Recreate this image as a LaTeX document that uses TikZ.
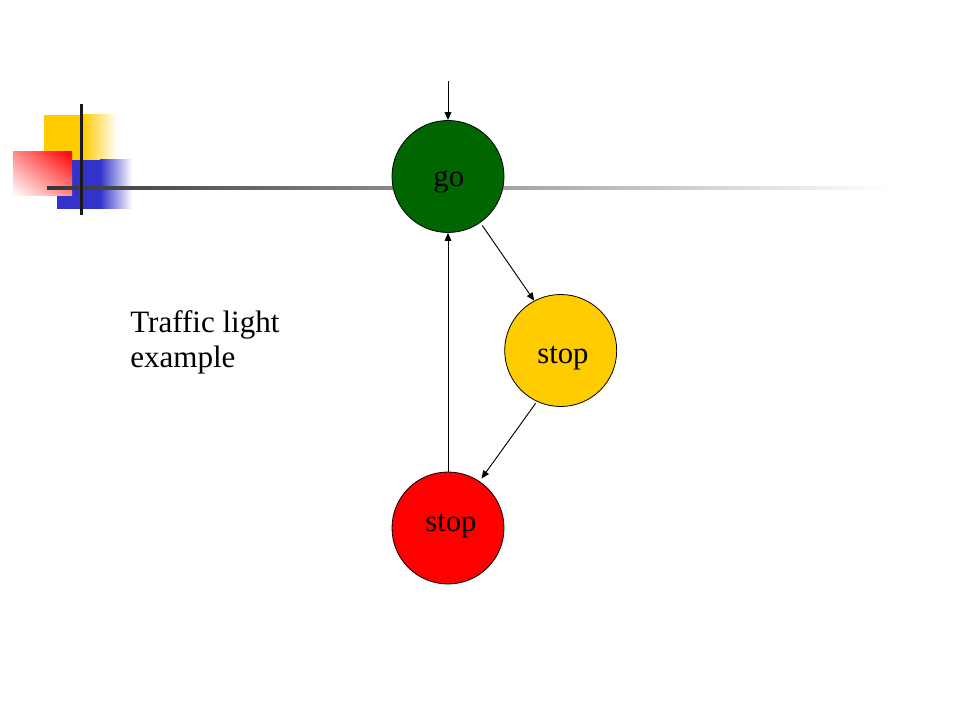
\documentclass[tikz,border=0pt]{standalone}
\usepackage{fontspec}
\setmainfont{Liberation Serif}
\usetikzlibrary{arrows.meta,shadings}
\definecolor{goGreen}{HTML}{006600}
\definecolor{amber}{HTML}{FFCC00}
\definecolor{redC}{HTML}{FF0000}
\definecolor{blueC}{HTML}{3333CC}
\definecolor{lineDark}{HTML}{363636}
\tikzset{
  state/.style={circle, draw=black, line width=0.6pt, minimum size=84pt, inner sep=0pt},
  state text/.style={font=\fontsize{23}{27}\selectfont, text=black, anchor=base, inner sep=0pt},
  trans/.style={draw=black, line width=0.7pt, -{Triangle[length=6pt,width=5pt]}},
  label text/.style={font=\fontsize{23.3}{27}\selectfont, anchor=base west, inner sep=0pt}
}
\begin{document}
\begin{tikzpicture}[x=0.75pt,y=-0.75pt]
\useasboundingbox (0,0) rectangle (960,720);
\fill[white] (0,0) rectangle (960,720);
% decoration
\fill[amber] (44,115) rectangle (83,160);
\shade[left color=amber, right color=white] (83,115) rectangle (117,160);
\fill[blueC] (57,160) rectangle (100,209);
\shade[left color=blueC, right color=white] (100,160) rectangle (132,209);
\shade[upper right=redC, upper left=redC!45, lower right=redC!45, lower left=white] (13,152) rectangle (72,196);
\shade[left color=lineDark, right color=white] (47,186.5) rectangle (890,189.5);
\fill[black!90] (79.5,104) rectangle (82.5,215);
% states
\node[state, fill=goGreen] (go) at (448,176.5) {};
\node[state, fill=amber] (stopY) at (560.7,350.5) {};
\node[state, fill=redC] (stopR) at (448,528) {};
\node[state text] (goT) at (448.8,186.7) {go};
\node[state text] (stopYT) at (563,363.3) {stop};
\node[state text] (stopRT) at (451,531.7) {stop};
\coordinate (init) at (448,81.5);
% transitions
\draw[trans] (init) -- (go);
\draw[trans, shorten <=2.5pt] (go.-55.6) -- (stopY.118.2);
\draw[trans, shorten <=1.5pt, shorten >=2.5pt] (stopY.-115.2) -- (stopR.56.6);
\draw[trans] (stopR) -- (go);
% label
\node[label text] (t1) at (130,332) {Traffic light};
\node[label text] (t2) at (130,367) {example};
\end{tikzpicture}
\end{document}
